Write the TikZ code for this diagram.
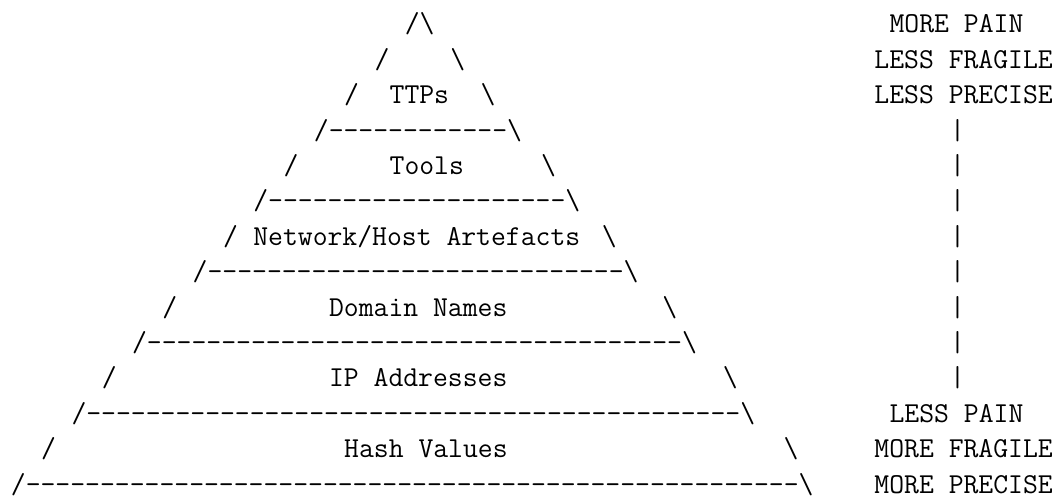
\documentclass[tikz,border=0pt]{standalone}
\usepackage{fontspec}
\tikzstyle{art} = [anchor=base west, inner sep=0pt, font=\fontsize{14.43pt}{17.7pt}\selectfont\ttfamily]
\newcommand{\bs}{\textbackslash}
\newcommand{\rungs}[1]{\foreach \i in {1,...,#1}{-}}

\begin{document}
\begin{tikzpicture}
\useasboundingbox (0,0) rectangle (531pt,-250.5pt);
\begin{scope}[x=7.575pt, y=17.7pt, shift={(5.25pt,1.2pt)}]
\node[art] (apex) at (26,-1) {/\bs};
\node[art] (l2) at (24,-2) {/};
\node[art] (r2) at (29,-2) {\bs};
\node[art] (l3) at (22,-3) {/};
\node[art] (ttps) at (25,-3) {TTPs};
\node[art] (r3) at (31,-3) {\bs};
\node[art] (floor1) at (20,-4) {/\rungs{12}\bs};
\node[art] (l5) at (18,-5) {/};
\node[art] (tools) at (25,-5) {Tools};
\node[art] (r5) at (35,-5) {\bs};
\node[art] (floor2) at (16,-6) {/\rungs{20}\bs};
\node[art] (l7) at (14,-7) {/};
\node[art] (artefacts) at (16,-7) {Network/Host Artefacts};
\node[art] (r7) at (39,-7) {\bs};
\node[art] (floor3) at (12,-8) {/\rungs{28}\bs};
\node[art] (l9) at (10,-9) {/};
\node[art] (domains) at (21,-9) {Domain Names};
\node[art] (r9) at (43,-9) {\bs};
\node[art] (floor4) at (8,-10) {/\rungs{36}\bs};
\node[art] (l11) at (6,-11) {/};
\node[art] (ips) at (21,-11) {IP Addresses};
\node[art] (r11) at (47,-11) {\bs};
\node[art] (floor5) at (4,-12) {/\rungs{44}\bs};
\node[art] (l13) at (2,-13) {/};
\node[art] (hashes) at (22,-13) {Hash Values};
\node[art] (r13) at (51,-13) {\bs};
\node[art] (floor6) at (0,-14) {/\rungs{52}\bs};
% scale on the right
\node[art] (pain) at (58,-1) {MORE PAIN};
\node[art] (fragile) at (57,-2) {LESS FRAGILE};
\node[art] (precise) at (57,-3) {LESS PRECISE};
\foreach \r in {4,...,11}
  \node[art] (bar\r) at (62,-\r) {|};
\node[art] (lpain) at (58,-12) {LESS PAIN};
\node[art] (mfragile) at (57,-13) {MORE FRAGILE};
\node[art] (mprecise) at (57,-14) {MORE PRECISE};
\end{scope}
\end{tikzpicture}
\end{document}
